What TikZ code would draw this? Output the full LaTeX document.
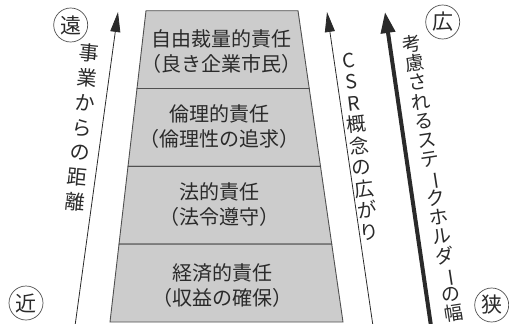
\documentclass[tikz,border=0pt]{standalone}
\usepackage{fontspec}
\usepackage{graphicx}
\setmainfont{Noto Sans CJK JP}
\usetikzlibrary{arrows.meta,calc}
\definecolor{layerfill}{HTML}{CCCCCC}
\definecolor{edgecol}{HTML}{505050}
\definecolor{inkcol}{HTML}{2A2A2A}
\newcommand{\vbar}{\makebox[1em]{\vphantom{ク}\smash{\rotatebox[origin=c]{-90}{ー}}}}
\tikzset{
  layertext/.style={align=center, inner sep=0pt, text=inkcol, font=\fontsize{20}{25}\selectfont},
  vtext/.style={align=center, inner sep=0pt, text=inkcol},
  mark circle/.style={circle, draw=edgecol, line width=0.7pt, minimum size=34pt, inner sep=0pt, text=inkcol, font=\fontsize{21}{21}\selectfont},
  thinarrow/.style={draw=inkcol, line width=0.8pt, -{Triangle[length=20pt,width=10pt]}},
  thickarrow/.style={draw=inkcol, line width=4pt, -{Triangle[length=21pt,width=14pt]}},
  layer/.style={fill=layerfill, draw=edgecol, line width=0.9pt}
}
\begin{document}
\begin{tikzpicture}[x=1pt,y=-1pt]
\useasboundingbox (0,0) rectangle (509,324);
% trapezoid corners
\coordinate (TL) at (146,10.7);
\coordinate (TR) at (298,10.7);
\coordinate (BL) at (110,322);
\coordinate (BR) at (343,322);
\coordinate (L1) at ($(TL)!0.25!(BL)$);
\coordinate (R1) at ($(TR)!0.25!(BR)$);
\coordinate (L2) at ($(TL)!0.5!(BL)$);
\coordinate (R2) at ($(TR)!0.5!(BR)$);
\coordinate (L3) at ($(TL)!0.75!(BL)$);
\coordinate (R3) at ($(TR)!0.75!(BR)$);
\path[layer] (TL) -- (TR) -- (R1) -- (L1) -- cycle;
\path[layer] (L1) -- (R1) -- (R2) -- (L2) -- cycle;
\path[layer] (L2) -- (R2) -- (R3) -- (L3) -- cycle;
\path[layer] (L3) -- (R3) -- (BR) -- (BL) -- cycle;
% layer texts
\node[layertext] (t1) at (221,51.5) {自由裁量的責任\\（良き企業市民）};
\node[layertext] (t2) at (219,126.5) {倫理的責任\\（倫理性の追求）};
\node[layertext] (t3) at (219,205) {法的責任\\（法令遵守）};
\node[layertext] (t4) at (222,285.5) {経済的責任\\（収益の確保）};
% arrows
\coordinate (a1s) at (75,326);
\coordinate (a1e) at (118,12);
\draw[thinarrow] (a1s) -- (a1e);
\coordinate (a2s) at (373,326);
\coordinate (a2e) at (327,12);
\draw[thinarrow] (a2s) -- (a2e);
\coordinate (a3s) at (431,326);
\coordinate (a3e) at (385,12);
\draw[thickarrow] (a3s) -- (a3e);
% vertical texts
\node[vtext, rotate=-5.5, font=\fontsize{20}{25}\selectfont] (v1) at (82.3,127.5) {事\\業\\か\\ら\\の\\距\\離};
\node[vtext, rotate=7, font=\fontsize{19.5}{21.6}\selectfont] (v2) at (359,146.5) {C\\S\\R\\概\\念\\の\\広\\が\\り};
\node[vtext, rotate=8.8, font=\fontsize{19}{19.5}\selectfont] (v3) at (432.5,178.5) {考\\慮\\さ\\れ\\る\\ス\\テ\\\vbar\\ク\\ホ\\ル\\ダ\\\vbar\\の\\幅};
% circle marks
\node[mark circle] (far) at (70.7,25) {遠};
\node[mark circle] (near) at (26,303) {近};
\node[mark circle] (wide) at (442.7,22) {広};
\node[mark circle] (narrow) at (491.7,305) {狭};
\end{tikzpicture}
\end{document}
